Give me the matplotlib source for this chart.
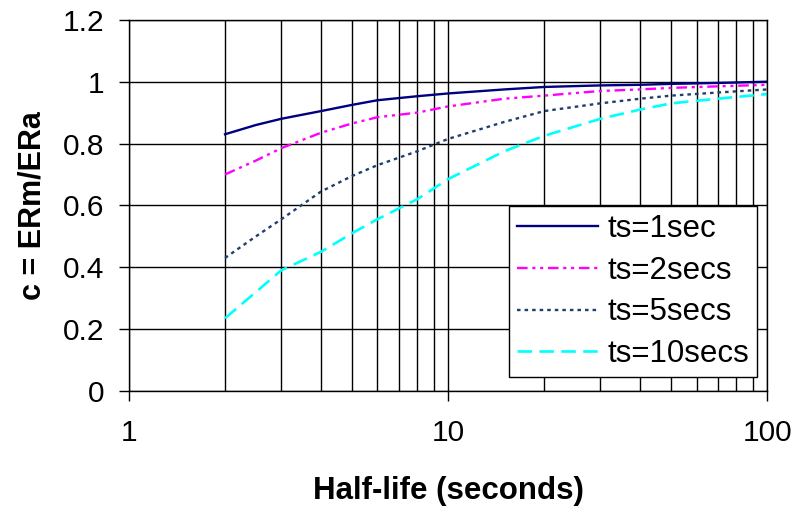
import matplotlib
matplotlib.use("Agg")
import matplotlib.pyplot as plt
from matplotlib.ticker import FixedLocator, FixedFormatter, NullFormatter

plt.rcParams["font.family"] = ["Liberation Sans", "DejaVu Sans"]

half_life = [2, 2.5, 3, 4, 5, 6, 8, 10, 15, 20, 30, 40, 50, 70, 100]
ts1 = [0.83, 0.86, 0.88, 0.905, 0.925, 0.94, 0.953, 0.962, 0.975, 0.983, 0.988, 0.99, 0.993, 0.996, 1.0]
ts2 = [0.70, 0.745, 0.785, 0.835, 0.865, 0.885, 0.90, 0.92, 0.945, 0.955, 0.97, 0.975, 0.98, 0.985, 0.99]
ts5 = [0.43, 0.50, 0.555, 0.645, 0.695, 0.73, 0.775, 0.815, 0.87, 0.905, 0.93, 0.945, 0.955, 0.965, 0.975]
ts10 = [0.235, 0.32, 0.39, 0.45, 0.51, 0.555, 0.62, 0.685, 0.775, 0.825, 0.88, 0.91, 0.93, 0.945, 0.96]

y_ticks = [0, 0.2, 0.4, 0.6, 0.8, 1.0, 1.2]
y_labels = ["0", "0.2", "0.4", "0.6", "0.8", "1", "1.2"]
x_ticks = [1, 10, 100]
x_labels = ["1", "10", "100"]
x_minor = [2, 3, 4, 5, 6, 7, 8, 9, 20, 30, 40, 50, 60, 70, 80, 90]

fig = plt.figure(figsize=(7.96, 5.09), dpi=100)
ax = fig.add_axes([0.162, 0.232, 0.802, 0.729])

ax.plot(half_life, ts1, color="#000080", lw=1.7, ls="-", label="ts=1sec")
ax.plot(half_life, ts2, color="#ff00ff", lw=1.7, ls=(0, (4.5, 2, 1.3, 2, 1.3, 2)), label="ts=2secs")
ax.plot(half_life, ts5, color="#1f3f6f", lw=1.7, ls=(0, (1.5, 1.7)), label="ts=5secs")
ax.plot(half_life, ts10, color="#00ffff", lw=1.9, ls=(0, (5.5, 2.8)), label="ts=10secs")

ax.set_xscale("log")
ax.set_xlim(1, 100)
ax.set_ylim(0, 1.2)

ax.xaxis.set_major_locator(FixedLocator(x_ticks))
ax.xaxis.set_major_formatter(FixedFormatter(x_labels))
ax.xaxis.set_minor_locator(FixedLocator(x_minor))
ax.xaxis.set_minor_formatter(NullFormatter())
ax.yaxis.set_major_locator(FixedLocator(y_ticks))
ax.yaxis.set_major_formatter(FixedFormatter(y_labels))

ax.grid(True, which="both", axis="x", color="black", lw=1)
ax.grid(True, which="major", axis="y", color="black", lw=1)
ax.set_axisbelow(True)

ax.tick_params(axis="x", which="major", length=7, width=1, pad=13, labelsize=21.5, direction="out")
ax.tick_params(axis="x", which="minor", length=0)
ax.tick_params(axis="y", length=7, width=1, pad=11, labelsize=21.5, direction="out")
for s in ax.spines.values():
    s.set_color("black")
    s.set_linewidth(1)

ax.set_xlabel("Half-life (seconds)", fontsize=22.5, fontweight="bold", labelpad=21)
ax.set_ylabel("c = ERm/ERa", fontsize=22, fontweight="bold", labelpad=11)

leg = ax.legend(loc="lower right", bbox_to_anchor=(0.984, 0.037), borderaxespad=0,
                fontsize=22.5, frameon=True, fancybox=False, handlelength=2.6,
                handletextpad=0.3, labelspacing=0.38, borderpad=0.25)
leg.get_frame().set_edgecolor("black")
leg.get_frame().set_linewidth(1)
leg.get_frame().set_alpha(1)

fig.savefig("out.png", dpi=100, facecolor="white")
